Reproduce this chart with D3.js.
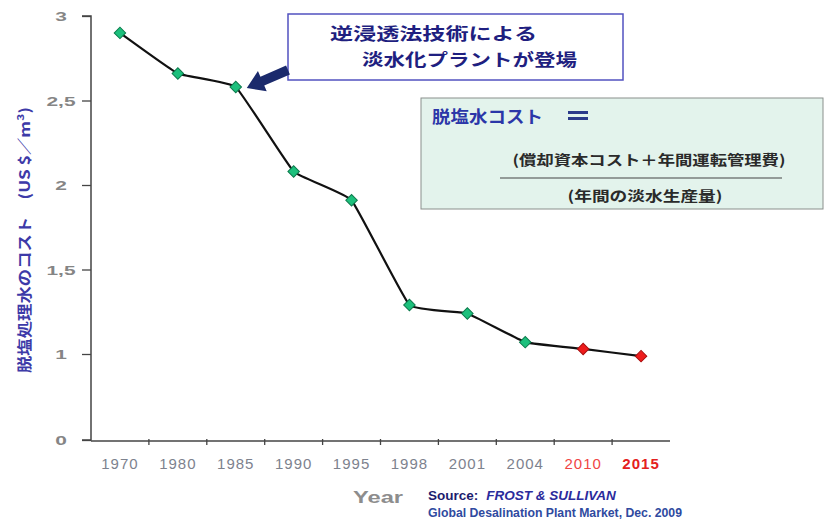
<!DOCTYPE html>
<html><head><meta charset="utf-8">
<script src="https://cdn.jsdelivr.net/npm/d3@7"></script>
<style>body{margin:0;background:#fff}svg{display:block}</style>
</head><body>
<svg id="c" width="829" height="528"></svg>
<script>
const years = ["1970","1980","1985","1990","1995","1998","2001","2004","2010","2015"];
const costs = [2.90, 2.66, 2.58, 2.08, 1.91, 1.29, 1.24, 1.07, 1.03, 0.975];
const forecast = [false,false,false,false,false,false,false,false,true,true];
const yTicks = [0, 1, 1.5, 2, 2.5, 3];
const yTickLabels = ["0", "1", "1,5", "2", "2,5", "3"];
const yTitle = "脱塩処理水のコスト　(US $／m³)";
const xTitle = "Year";
const calloutLines = ["逆浸透法技術による", "淡水化プラントが登場"];
const formulaLeft = "脱塩水コスト";
const formulaNum = "(償却資本コスト＋年間運転管理費)";
const formulaDen = "(年間の淡水生産量)";
const sourceLabel = "Source:";
const sourceName = "FROST & SULLIVAN";
const sourceDetail = "Global Desalination Plant Market, Dec. 2009";

const svg = d3.select("#c");
const data = years.map((y,i)=>({year:y, cost:costs[i], forecast:forecast[i]}));

const x = d3.scaleBand().domain(years).range([91, 670]).padding(0);
const y = d3.scaleLinear().domain([0, 1, 3]).range([440, 354, 16]);
const cx = d => x(d) + x.bandwidth()/2;

const JP = "'Noto Sans CJK JP', 'Noto Sans', sans-serif";
const AR = "'Liberation Sans', Arial, sans-serif";

// y axis
const yAxis = svg.append("g").attr("transform","translate(91,0)")
  .call(d3.axisLeft(y).tickValues(yTicks).tickSize(9).tickPadding(0).tickFormat((d,i)=>yTickLabels[i]));
yAxis.select(".domain").attr("stroke","#444").attr("stroke-width",1.5).attr("d","M-9,440H0V16H-9");
yAxis.selectAll(".tick line").attr("stroke","#444").attr("stroke-width",1.3);
yAxis.selectAll(".tick text")
  .attr("x",-30).attr("text-anchor","middle").attr("dy","0.36em")
  .attr("fill","#858585").style("font-family",AR).style("font-size","13.5px").style("font-weight","bold")
  .each(function(){ const w=this.getComputedTextLength(); d3.select(this).attr("textLength",w*1.55).attr("lengthAdjust","spacingAndGlyphs"); });

// x axis
const xAxis = svg.append("g").attr("transform","translate(0,441)")
  .call(d3.axisBottom(x).tickSize(0).tickPadding(0));
xAxis.select(".domain").attr("stroke","#444").attr("stroke-width",1.5).attr("d","M91,0H670");
xAxis.selectAll(".tick line").remove();
xAxis.selectAll(".tick text")
  .attr("y",28).attr("dy",0)
  .style("font-family",AR).style("font-size","15px").style("letter-spacing","1px")
  .attr("fill",(d,i)=> forecast[i] ? (i===years.length-1 ? "#e42020" : "#f04545") : "#7d828e")
  .style("font-weight",(d,i)=> i===years.length-1 ? "bold" : "normal");
// boundary ticks
xAxis.selectAll("line.bt").data(years.slice(1)).enter().append("line").attr("class","bt")
  .attr("x1",d=>x(d)).attr("x2",d=>x(d)).attr("y1",-2).attr("y2",4)
  .attr("stroke","#444").attr("stroke-width",1.3);

// axis titles
svg.append("text").attr("transform","translate(30,240) rotate(-90)")
  .attr("text-anchor","middle").attr("fill","#3d3aa8")
  .style("font-family",JP).style("font-size","14.5px").style("font-weight","bold")
  .attr("textLength",266).attr("lengthAdjust","spacingAndGlyphs")
  .text(yTitle);
svg.append("text").attr("x",378).attr("y",503).attr("text-anchor","middle")
  .attr("fill","#8d8d8d").style("font-family",AR).style("font-size","16px").style("font-weight","bold")
  .attr("textLength",50).attr("lengthAdjust","spacingAndGlyphs").text(xTitle);

// line
const line = d3.line().x(d=>cx(d.year)).y(d=>y(d.cost)).curve(d3.curveCardinal.tension(0.7));
svg.append("path").datum(data).attr("d",line).attr("fill","none")
  .attr("stroke","#111").attr("stroke-width",2.2);

// markers
svg.selectAll("path.mk").data(data).enter().append("path").attr("class","mk")
  .attr("d", d3.symbol().type(d3.symbolSquare).size(66))
  .attr("transform", d=>`translate(${cx(d.year)},${y(d.cost)}) rotate(45)`)
  .attr("fill", d=> d.forecast ? "#ee1c1c" : "#1cc07c")
  .attr("stroke", d=> d.forecast ? "#a81010" : "#0c7a4c").attr("stroke-width",1);

// callout box
svg.append("rect").attr("x",288).attr("y",14).attr("width",335).attr("height",66)
  .attr("fill","#fff").attr("stroke","#5252c0").attr("stroke-width",1.5);
svg.append("text").attr("x",330).attr("y",40).attr("fill","#1f1f80")
  .style("font-family",JP).style("font-size","17px").style("font-weight","bold")
  .attr("textLength",207).attr("lengthAdjust","spacingAndGlyphs").text(calloutLines[0]);
svg.append("text").attr("x",362).attr("y",66).attr("fill","#1f1f80")
  .style("font-family",JP).style("font-size","17px").style("font-weight","bold")
  .attr("textLength",215).attr("lengthAdjust","spacingAndGlyphs").text(calloutLines[1]);

// arrow pointing at 1985 point
(function(){
  const tip = [cx("1985")+11, y(costs[2])+1];
  const tail = [288, 70];
  const dx = tail[0]-tip[0], dy = tail[1]-tip[1], L = Math.hypot(dx,dy);
  const u = [dx/L, dy/L], n = [-u[1], u[0]];
  const hl = 17, hw = 11, sw = 4.8;
  const b = [tip[0]+u[0]*hl, tip[1]+u[1]*hl];
  const P = (p,k)=>[p[0]+n[0]*k, p[1]+n[1]*k];
  const pts = [tip, P(b,hw), P(b,sw), P(tail,sw), P(tail,-sw), P(b,-sw), P(b,-hw)];
  svg.append("path").attr("d","M"+pts.map(p=>p.join(",")).join("L")+"Z").attr("fill","#1b2a6c");
})();

// formula box
svg.append("rect").attr("x",421).attr("y",98).attr("width",402).attr("height",111)
  .attr("fill","#e3f3ec").attr("stroke","#8a8f8c").attr("stroke-width",1);
svg.append("text").attr("x",432).attr("y",123).attr("fill","#2b36a8")
  .style("font-family",JP).style("font-size","17px").style("font-weight","bold")
  .attr("textLength",111).attr("lengthAdjust","spacingAndGlyphs").text(formulaLeft);
svg.append("rect").attr("x",568).attr("y",111).attr("width",20).attr("height",3).attr("fill","#2b3a8a");
svg.append("rect").attr("x",568).attr("y",117).attr("width",20).attr("height",3).attr("fill","#2b3a8a");
svg.append("text").attr("x",649).attr("y",165).attr("text-anchor","middle").attr("fill","#2a2a2a")
  .style("font-family",JP).style("font-size","14px").style("font-weight","bold")
  .attr("textLength",273).attr("lengthAdjust","spacingAndGlyphs").text(formulaNum);
svg.append("line").attr("x1",500).attr("x2",782).attr("y1",178).attr("y2",178)
  .attr("stroke","#444").attr("stroke-width",1.2);
svg.append("text").attr("x",645).attr("y",201).attr("text-anchor","middle").attr("fill","#2a2a2a")
  .style("font-family",JP).style("font-size","14px").style("font-weight","bold")
  .attr("textLength",155).attr("lengthAdjust","spacingAndGlyphs").text(formulaDen);

// source
const s1 = svg.append("text").attr("x",428).attr("y",500)
  .style("font-family",AR).style("font-size","13.5px").style("font-weight","bold");
s1.append("tspan").attr("fill","#1c1c6e").text(sourceLabel);
s1.append("tspan").attr("fill","#2b2b9c").attr("dx",8).style("font-style","italic").text(sourceName);
svg.append("text").attr("x",428).attr("y",517).attr("fill","#2f4aa0")
  .style("font-family",AR).style("font-size","12px").style("font-weight","bold")
  .attr("textLength",254).attr("lengthAdjust","spacingAndGlyphs").text(sourceDetail);
</script>
</body></html>
